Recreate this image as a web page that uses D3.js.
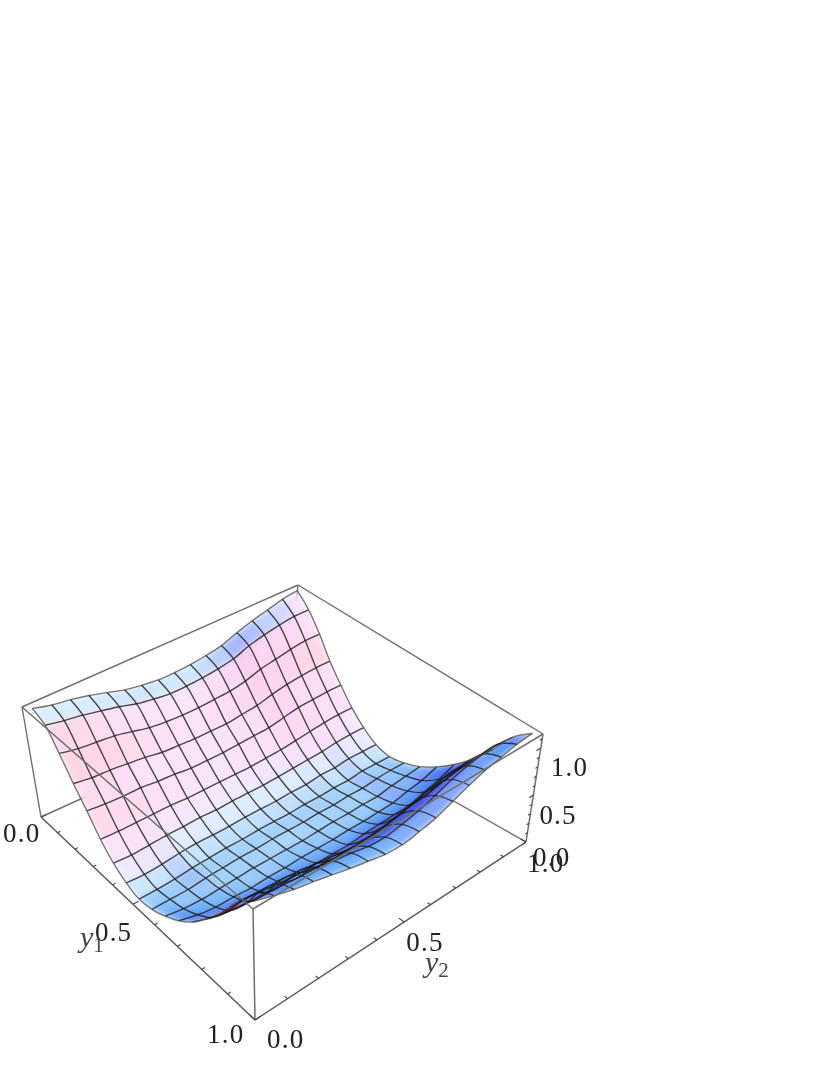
<!DOCTYPE html>
<html>
<head>
<meta charset="utf-8">
<script src="https://cdn.jsdelivr.net/npm/d3@7"></script>
<style>
  html, body { margin: 0; padding: 0; background: #fff; }
  svg { display: block; }
</style>
</head>
<body>
<svg id="chart" width="834" height="1079"></svg>
<script>
// mesh positions along each horizontal axis
const y1Mesh = [0.02, 0.08, 0.14, 0.20, 0.26, 0.32, 0.38, 0.44, 0.50, 0.56, 0.62, 0.68, 0.74, 0.80, 0.86, 0.92, 0.98];
const y2Mesh = [0.02, 0.08, 0.14, 0.20, 0.26, 0.32, 0.38, 0.44, 0.50, 0.56, 0.62, 0.68, 0.74, 0.80, 0.86, 0.92, 0.98];

// surface height, one row per y1 mesh line
const zRows = [
  [1.14, 1.09, 1.06, 1.02, 0.97, 0.92, 0.89, 0.87, 0.87, 0.88, 0.90, 0.93, 0.99, 1.04, 1.08, 1.12, 1.14],
  [1.07, 1.03, 1.00, 0.96, 0.92, 0.87, 0.84, 0.82, 0.82, 0.83, 0.85, 0.88, 0.94, 0.98, 1.01, 1.03, 1.03],
  [0.88, 0.84, 0.82, 0.80, 0.76, 0.72, 0.70, 0.69, 0.69, 0.70, 0.71, 0.74, 0.79, 0.82, 0.85, 0.87, 0.87],
  [0.67, 0.64, 0.63, 0.61, 0.59, 0.56, 0.55, 0.54, 0.54, 0.54, 0.56, 0.58, 0.62, 0.65, 0.67, 0.68, 0.68],
  [0.49, 0.47, 0.46, 0.46, 0.44, 0.43, 0.41, 0.41, 0.41, 0.42, 0.43, 0.44, 0.47, 0.50, 0.51, 0.52, 0.52],
  [0.30, 0.29, 0.29, 0.29, 0.29, 0.28, 0.28, 0.28, 0.28, 0.28, 0.29, 0.30, 0.32, 0.34, 0.36, 0.37, 0.37],
  [0.16, 0.15, 0.16, 0.17, 0.17, 0.18, 0.17, 0.18, 0.18, 0.18, 0.19, 0.20, 0.21, 0.22, 0.24, 0.25, 0.25],
  [0.07, 0.06, 0.07, 0.09, 0.10, 0.10, 0.10, 0.11, 0.11, 0.11, 0.12, 0.12, 0.14, 0.14, 0.16, 0.16, 0.16],
  [0.02, 0.02, 0.03, 0.05, 0.06, 0.07, 0.07, 0.08, 0.08, 0.08, 0.09, 0.09, 0.10, 0.10, 0.12, 0.12, 0.12],
  [0.04, 0.04, 0.04, 0.06, 0.07, 0.08, 0.08, 0.09, 0.09, 0.09, 0.10, 0.10, 0.11, 0.11, 0.13, 0.14, 0.14],
  [0.10, 0.07, 0.06, 0.07, 0.08, 0.09, 0.09, 0.09, 0.09, 0.10, 0.11, 0.11, 0.12, 0.12, 0.15, 0.17, 0.19],
  [0.19, 0.14, 0.11, 0.11, 0.10, 0.11, 0.11, 0.12, 0.12, 0.12, 0.13, 0.13, 0.14, 0.15, 0.19, 0.22, 0.28],
  [0.32, 0.25, 0.21, 0.19, 0.18, 0.18, 0.18, 0.18, 0.18, 0.18, 0.20, 0.21, 0.22, 0.23, 0.28, 0.33, 0.40],
  [0.50, 0.45, 0.42, 0.40, 0.39, 0.37, 0.36, 0.35, 0.35, 0.36, 0.38, 0.41, 0.44, 0.46, 0.50, 0.53, 0.56],
  [0.72, 0.72, 0.71, 0.70, 0.68, 0.65, 0.62, 0.59, 0.58, 0.61, 0.64, 0.69, 0.74, 0.78, 0.79, 0.78, 0.76],
  [0.98, 0.95, 0.92, 0.90, 0.86, 0.81, 0.78, 0.74, 0.73, 0.76, 0.80, 0.86, 0.93, 0.98, 1.01, 1.02, 1.00],
  [1.14, 1.07, 1.01, 0.97, 0.92, 0.87, 0.83, 0.79, 0.78, 0.81, 0.85, 0.92, 0.99, 1.05, 1.09, 1.13, 1.15]
];

const minorTicks = [0, 0.1, 0.2, 0.3, 0.4, 0.5, 0.6, 0.7, 0.8, 0.9, 1];
const zMinorTicks = [0, 0.1, 0.2, 0.3, 0.4, 0.5, 0.6, 0.7, 0.8, 0.9, 1, 1.1];
const majorTicks = [0, 0.5, 1];
const tickLabels = ["0.0", "0.5", "1.0"];

const svg = d3.select("#chart");
const defs = svg.append("defs");

const soft = defs.append("filter").attr("id", "soft")
    .attr("x", "-5%").attr("y", "-5%").attr("width", "110%").attr("height", "110%");
soft.append("feGaussianBlur").attr("stdDeviation", 3);
const haze = defs.append("filter").attr("id", "haze")
    .attr("x", "0").attr("y", "0").attr("width", "100%").attr("height", "100%")
    .attr("filterUnits", "userSpaceOnUse");
haze.append("feGaussianBlur").attr("stdDeviation", 0.5);

// the box as it sits on the page, floor and lid, in (y1, y2) corner order 00, 10, 11, 01
const floorCorners = [[41, 817], [255, 1020], [526, 842], [286, 706]];
const lidCorners = [[22, 707], [253, 909], [543, 734], [298, 585]];

const y1Scale = d3.scaleLinear().domain([0, 1]).range([0, 1]);
const y2Scale = d3.scaleLinear().domain([0, 1]).range([0, 1]);
const zScale = d3.scaleLinear().domain([0, 1.15]).range([0, 1]);

// unit square -> quad, so the far side of the box comes out shorter
function quadMap(q) {
    let [p0, p1, p2, p3] = q;
    let dx1 = p1[0] - p2[0], dx2 = p3[0] - p2[0], sx = p0[0] - p1[0] + p2[0] - p3[0];
    let dy1 = p1[1] - p2[1], dy2 = p3[1] - p2[1], sy = p0[1] - p1[1] + p2[1] - p3[1];
    let den = dx1 * dy2 - dx2 * dy1;
    let g = (sx * dy2 - dx2 * sy) / den;
    let h = (dx1 * sy - sx * dy1) / den;
    let a = p1[0] - p0[0] + g * p1[0], b = p3[0] - p0[0] + h * p3[0];
    let d = p1[1] - p0[1] + g * p1[1], e = p3[1] - p0[1] + h * p3[1];
    return function (u, v) {
        let w = g * u + h * v + 1;
        return [(a * u + b * v + p0[0]) / w, (d * u + e * v + p0[1]) / w];
    };
}
const floorMap = quadMap(floorCorners);
const lidMap = quadMap(lidCorners);

function project(y1, y2, z) {
    let u = y1Scale(y1), v = y2Scale(y2), t = zScale(z);
    let a = floorMap(u, v), b = lidMap(u, v);
    return [a[0] + (b[0] - a[0]) * t, a[1] + (b[1] - a[1]) * t];
}

const line = d3.line();
const boxLine = (a, b) => line([project(a[0], a[1], a[2]), project(b[0], b[1], b[2])]);
const curve = d3.line().curve(d3.curveCatmullRom.alpha(0.5));

const root = svg.append("g").attr("filter", "url(#haze)");

// box edges behind the surface
const backEdges = [
    [[0, 0, 0], [0, 1, 0]], [[0, 1, 0], [1, 1, 0]], [[0, 0, 0], [0, 0, 1.15]],
    [[0, 1, 0], [0, 1, 1.15]], [[0, 0, 1.15], [0, 1, 1.15]], [[0, 1, 1.15], [1, 1, 1.15]]
];
root.append("g").selectAll("path").data(backEdges).join("path")
    .attr("d", d => boxLine(d[0], d[1]))
    .attr("fill", "none").attr("stroke", "#6e6e6e").attr("stroke-width", 1.4);

// shading follows the slope of each cell
const slopeColor = d3.scaleLinear()
    .domain([-3, -2.2, -1.5, -0.9, -0.35, 0.1, 0.8, 1.5, 2.4])
    .range(["#ffd4e2", "#fde2f8", "#f6e8ff", "#d8eefd", "#bedcfb", "#a8d4fa", "#74b4fb", "#4f8df9", "#3f48ea"])
    .clamp(true);
const riseMix = d3.scaleLinear().domain([0.15, 0.7]).range([0, 1]).clamp(true);

const cells = [];
for (let i = 0; i < y1Mesh.length - 1; i++) {
    for (let j = 0; j < y2Mesh.length - 1; j++) {
        let corners = [[i, j], [i + 1, j], [i + 1, j + 1], [i, j + 1]];
        let pts = corners.map(c => project(y1Mesh[c[0]], y2Mesh[c[1]], zRows[c[0]][c[1]]));
        let dzdy1 = (zScale(zRows[i + 1][j] + zRows[i + 1][j + 1]) - zScale(zRows[i][j] + zRows[i][j + 1])) / 2 / (y1Mesh[i + 1] - y1Mesh[i]);
        let dzdy2 = (zScale(zRows[i][j + 1] + zRows[i + 1][j + 1]) - zScale(zRows[i][j] + zRows[i + 1][j])) / 2 / (y2Mesh[j + 1] - y2Mesh[j]);
        let col = slopeColor(dzdy1);
        if (Math.abs(dzdy1) < 1.2) col = d3.interpolateRgb(col, "#8f9cff")(riseMix(dzdy2) * (1 - Math.abs(dzdy1) / 2));
        else if (dzdy1 < 0 && dzdy2 > 0) col = d3.interpolateRgb(col, "#fbc4ea")(Math.min(dzdy2 / 0.8, 1) * 0.6);
        // faces turned away from the viewer: red underside at the open end, dark in the fold
        let under = d3.polygonArea(pts) < 0;
        if (under) col = "#3f48ea";
        cells.push({ pts: pts, color: col, depth: y1Mesh[i] - y2Mesh[j], red: under && j < 1 });
    }
}
cells.sort((a, b) => d3.ascending(a.depth, b.depth));

const clip = defs.append("clipPath").attr("id", "surfaceClip");
clip.selectAll("path").data(cells).join("path").attr("d", d => line(d.pts) + "Z");

root.append("g").attr("clip-path", "url(#surfaceClip)")
    .append("g").attr("filter", "url(#soft)")
    .selectAll("path").data(cells).join("path")
    .attr("d", d => line(d.pts) + "Z")
    .attr("fill", d => d.color)
    .attr("stroke", d => d.color)
    .attr("stroke-width", 0.6);

// the sliver of underside stays sharp
root.append("g").selectAll("path").data(cells.filter(d => d.red)).join("path")
    .attr("d", d => line(d.pts) + "Z")
    .attr("fill", "#c8305f")
    .attr("stroke", "#c8305f")
    .attr("stroke-width", 1.2);

// mesh lines
const meshLines = [];
y1Mesh.forEach((y1, i) => meshLines.push({
    pts: y2Mesh.map((y2, j) => project(y1, y2, zRows[i][j])),
    edge: i === 0 || i === y1Mesh.length - 1
}));
y2Mesh.forEach((y2, j) => meshLines.push({
    pts: y1Mesh.map((y1, i) => project(y1, y2, zRows[i][j])),
    edge: j === 0 || j === y2Mesh.length - 1
}));
root.append("g").selectAll("path").data(meshLines).join("path")
    .attr("d", d => curve(d.pts))
    .attr("fill", "none")
    .attr("stroke", d => d.edge ? "#555" : "#1c1c1c")
    .attr("stroke-opacity", 0.8)
    .attr("stroke-width", 1.4);

// box edges that were painted over the surface
const frontEdges = [
    [[0, 0, 1.15], [1, 0, 1.15]], [[1, 0, 1.15], [1, 1, 1.15]],
    [[1, 0, 0], [1, 0, 1.15]], [[1, 1, 0], [1, 1, 1.15]]
];
root.append("g").selectAll("path").data(frontEdges).join("path")
    .attr("d", d => boxLine(d[0], d[1]))
    .attr("fill", "none").attr("stroke", "#6e6e6e").attr("stroke-width", 1.5);

// axes on the floor and the near upright
const axisEdges = [[[0, 0, 0], [1, 0, 0]], [[1, 0, 0], [1, 1, 0]]];
root.append("g").selectAll("path").data(axisEdges).join("path")
    .attr("d", d => boxLine(d[0], d[1]))
    .attr("fill", "none").attr("stroke", "#555").attr("stroke-width", 1.4);

const tickSize = v => majorTicks.includes(v) ? 0.018 : 0.01;
const tickData = [];
minorTicks.forEach(v => tickData.push([[v, 0, 0], [v, tickSize(v), 0]]));
minorTicks.forEach(v => tickData.push([[1, v, 0], [1 - tickSize(v), v, 0]]));
zMinorTicks.forEach(v => tickData.push([[1, 1, v], [1, 1 - tickSize(v), v]]));
root.append("g").selectAll("path").data(tickData).join("path")
    .attr("d", d => boxLine(d[0], d[1]))
    .attr("fill", "none").attr("stroke", "#444").attr("stroke-width", 1.1);

// tick labels, nudged by hand off their ticks like the original
const labelText = root.append("g")
    .attr("font-family", "'Liberation Serif', serif")
    .attr("font-size", 27)
    .attr("letter-spacing", 1.2)
    .attr("fill", "#222");

const labelSpots = [
    { at: project(0, 0, 0), dx: -38, dy: 25, text: tickLabels[0] },
    { at: project(0.5, 0, 0), dx: -38, dy: 37, text: tickLabels[1] },
    { at: project(1, 0, 0), dx: -48, dy: 23, text: tickLabels[2] },
    { at: project(1, 0, 0), dx: 12, dy: 28, text: tickLabels[0] },
    { at: project(1, 0.5, 0), dx: 2, dy: 29, text: tickLabels[1] },
    { at: project(1, 1, 0), dx: 1, dy: 30, text: tickLabels[2] },
    { at: project(1, 1, 0), dx: 7, dy: 24, text: tickLabels[0] },
    { at: project(1, 1, 0.5), dx: 6, dy: 29, text: tickLabels[1] },
    { at: project(1, 1, 1), dx: 10, dy: 28, text: tickLabels[2] }
];
labelText.selectAll("text").data(labelSpots).join("text")
    .attr("x", d => d.at[0] + d.dx)
    .attr("y", d => d.at[1] + d.dy)
    .text(d => d.text);

// axis titles
const titles = root.append("g").attr("font-family", "'Liberation Serif', serif").attr("fill", "#444");
const y1Title = titles.append("text").attr("x", 80).attr("y", 947).attr("font-size", 30).attr("font-style", "italic").text("y");
y1Title.append("tspan").attr("font-size", 21).attr("font-style", "normal").attr("dy", 5).text("1");
const y2Title = titles.append("text").attr("x", 425).attr("y", 972).attr("font-size", 30).attr("font-style", "italic").text("y");
y2Title.append("tspan").attr("font-size", 21).attr("font-style", "normal").attr("dy", 5).text("2");
</script>
</body>
</html>
